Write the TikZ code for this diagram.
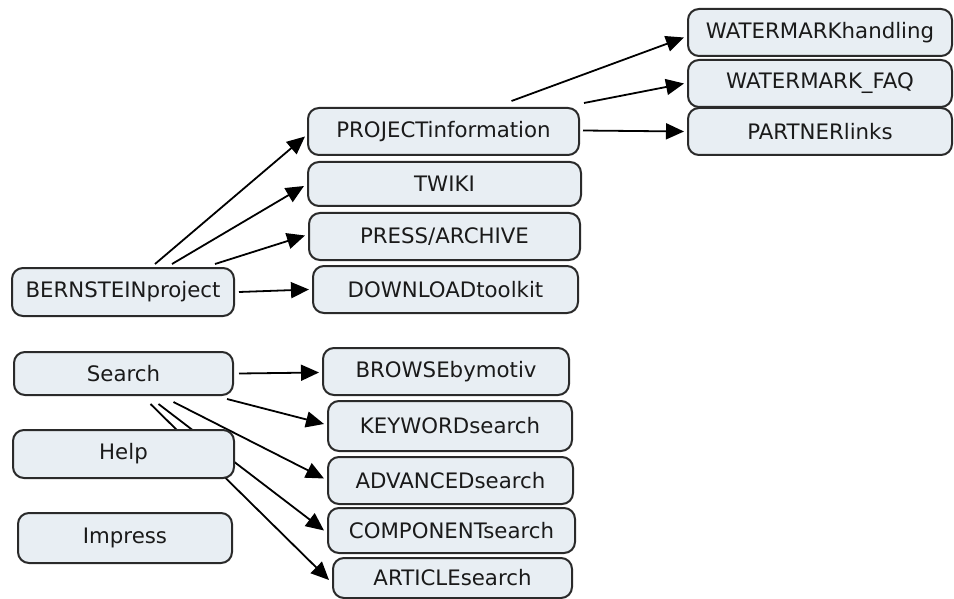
\documentclass[tikz,border=0pt]{standalone}
\usepackage{fontspec}
\setmainfont{DejaVu Sans}
\usetikzlibrary{arrows.meta,calc}
\pgfdeclarelayer{bg}
\pgfsetlayers{bg,main}
\definecolor{boxfill}{HTML}{E8EEF3}
\definecolor{boxline}{HTML}{2A2A2A}
\definecolor{txt}{HTML}{1A1A1A}
\tikzset{
  box/.style={draw=boxline, line width=2pt, fill=boxfill, rounded corners=11pt,
    inner sep=0pt, text=txt, font=\fontsize{21.3}{24}\selectfont},
  arr/.style={draw=black, line width=1.8pt, -{Triangle[length=18pt,width=16pt]}},
}
\newcommand{\bx}[7]{% name, x1, x2, y1, y2, text
  \node[box, minimum width={(#3)-(#2)}, minimum height={(#5)-(#4)}] (#1) at ({((#2)+(#3))/2},{((#4)+(#5))/2}) {#6#7};}
\begin{document}
\begin{tikzpicture}[x=1pt,y=-1pt]
\useasboundingbox (0,0) rectangle (954,599);
% nodes
\bx{bern}{12}{234}{268}{316}{BERNSTEINproject}{}
\bx{proj}{308}{579}{108}{155}{PROJECTinformation}{}
\bx{twiki}{308}{581}{162}{206}{TWIKI}{}
\bx{press}{309}{580}{213}{260}{PRESS/ARCHIVE}{}
\bx{down}{313}{578}{266}{313}{DOWNLOADtoolkit}{}
\bx{wmh}{688}{952}{9}{56}{WATERMARKhandling}{}
\bx{faq}{688}{952}{60}{107}{WATERMARK\_FAQ}{}
\bx{partner}{688}{952}{108}{155}{PARTNERlinks}{}
\bx{search}{14}{233}{352}{395}{Search}{}
\bx{help}{13}{234}{430}{478}{Help}{}
\bx{impress}{18}{232}{513}{563}{Impress}{}
\bx{browse}{323}{569}{348}{395}{BROWSEbymotiv}{}
\bx{keyword}{328}{572}{401}{451}{KEYWORDsearch}{}
\bx{advanced}{328}{573}{457}{504}{ADVANCEDsearch}{}
\bx{component}{328}{575}{508}{553}{COMPONENTsearch}{}
\bx{article}{333}{572}{558}{598}{ARTICLEsearch}{}
% connectors
\begin{pgfonlayer}{bg}
\draw[arr] ($(bern.north)+(32,-3)$) -- ($(proj.west)+(-2,5)$);
\draw[arr] ($(bern.north)+(49,-3)$) -- ($(twiki.west)+(-3,2)$);
\draw[arr] ($(bern.north)+(92,-3)$) -- ($(press.west)+(-3,-1)$);
\draw[arr] ($(bern.east)+(4,0)$) -- ($(down.west)+(-3,0)$);
\draw[arr] ($(proj.north)+(68,-6)$) -- ($(wmh.west)+(-3,5)$);
\draw[arr] ($(proj.north east)+(4,-4)$) -- ($(faq.west)+(-3,0)$);
\draw[arr] ($(proj.east)+(3,-1)$) -- ($(partner.west)+(-3,0)$);
\draw[arr] ($(search.east)+(5,0)$) -- ($(browse.west)+(-3,1)$);
\draw[arr] ($(search.south east)+(-7,3)$) -- ($(keyword.west)+(-3,-2)$);
\draw[arr] ($(search.south)+(50,6)$) -- ($(advanced.west)+(-3,-2)$);
\draw[arr] ($(search.south)+(35,8)$) -- ($(component.west)+(-3,0)$);
\draw[arr] ($(search.south)+(27,8)$) -- ($(article.west)+(-3,2)$);
\end{pgfonlayer}
\end{tikzpicture}
\end{document}
